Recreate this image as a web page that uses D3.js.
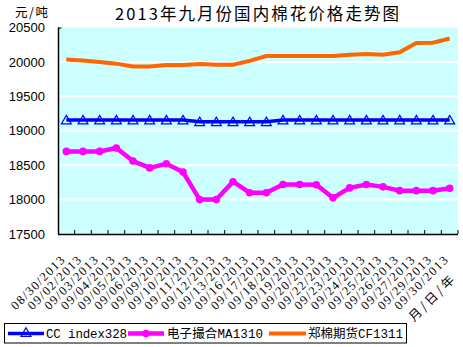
<!DOCTYPE html>
<html><head><meta charset="utf-8">
<script src="https://cdn.jsdelivr.net/npm/d3@7"></script>
<style>body{margin:0;background:#fff}svg{display:block}</style>
</head><body><svg id="c" width="463" height="347"></svg>
<script>
const dates = ["08/30/2013","09/02/2013","09/03/2013","09/04/2013","09/05/2013","09/06/2013","09/09/2013","09/10/2013","09/11/2013","09/12/2013","09/13/2013","09/16/2013","09/17/2013","09/18/2013","09/19/2013","09/20/2013","09/22/2013","09/23/2013","09/24/2013","09/25/2013","09/26/2013","09/27/2013","09/29/2013","09/30/2013"];
const ccIndex = [19155,19155,19155,19155,19155,19155,19155,19155,19130,19130,19130,19130,19130,19155,19155,19155,19155,19155,19155,19155,19155,19155,19155,19155];
const dianzi = [18700,18700,18700,18750,18560,18460,18520,18400,18000,18000,18260,18100,18100,18220,18220,18215,18025,18170,18220,18185,18130,18130,18130,18165];
const zhengmian = [20035,20020,20000,19975,19935,19935,19955,19955,19970,19960,19960,20015,20085,20085,20085,20085,20085,20105,20115,20105,20140,20275,20280,20340];
const yTicks = [17500,18000,18500,19000,19500,20000,20500];
const seriesNames = ["CC index328","电子撮合MA1310","郑棉期货CF1311"];
const colors = ["#0000FF","#FF00FF","#FF6600"];
const titleText = "2013年九月份国内棉花价格走势图";
const unitText = "元/吨";
const xAxisText = "月/日/年";

const svg = d3.select("#c");
const L = 58, R = 458, T = 27.5, B = 234;
const x = d3.scaleBand().domain(dates).range([L, R]).padding(0);
const cx = d => x(d) + x.bandwidth() / 2;
const y = d3.scaleLinear().domain([17500, 20500]).range([B, T]);

// plot background
svg.append("rect").attr("x", L).attr("y", T).attr("width", R - L).attr("height", B - T).attr("fill", "#CCFFFF");
// gridlines
svg.append("g").selectAll("line").data(yTicks.filter(v => v > 17500 && v < 20500)).join("line")
  .attr("x1", L).attr("x2", R).attr("y1", d => y(d)).attr("y2", d => y(d))
  .attr("stroke", "#fff").attr("stroke-width", 2);

// y axis labels
const yAxis = d3.axisLeft(y).tickValues(yTicks).tickSize(0).tickPadding(13).tickFormat(d3.format("d"));
const ya = svg.append("g").attr("transform", `translate(${L},0)`).call(yAxis);
ya.select(".domain").remove();
ya.selectAll("text").attr("font-family", "Liberation Sans, Arial, sans-serif").attr("font-size", 13).attr("fill", "#000");
// left axis line + top tick
svg.append("line").attr("x1", L + 0.5).attr("x2", L + 0.5).attr("y1", T).attr("y2", B).attr("stroke", "#000").attr("stroke-width", 1.5);
svg.append("line").attr("x1", L).attr("x2", L + 3.5).attr("y1", T + 0.5).attr("y2", T + 0.5).attr("stroke", "#000");
// bottom axis line + inward ticks at band boundaries
svg.append("line").attr("x1", L).attr("x2", R).attr("y1", B + 0.5).attr("y2", B + 0.5).attr("stroke", "#000").attr("stroke-width", 1.5);
svg.append("g").selectAll("line").data(dates).join("line")
  .attr("x1", d => x(d) + x.bandwidth()).attr("x2", d => x(d) + x.bandwidth())
  .attr("y1", B).attr("y2", B - 4).attr("stroke", "#000");

// x labels
svg.append("g").selectAll("text").data(dates).join("text")
  .attr("transform", d => `translate(${cx(d) - 1},${B + 27}) rotate(-45)`)
  .attr("text-anchor", "end")
  .attr("font-family", "Liberation Serif, serif").attr("font-size", 12.5)
  .attr("textLength", 70).attr("lengthAdjust", "spacing")
  .text(d => d);

// series
const line = d3.line().x((v, i) => cx(dates[i])).y(v => y(v));
// orange
svg.append("path").datum(zhengmian).attr("d", line).attr("fill", "none").attr("stroke", colors[2]).attr("stroke-width", 4);
// blue triangles then line
const tri = d3.symbol().type(d3.symbolTriangle).size(42);
svg.append("g").selectAll("path").data(ccIndex).join("path")
  .attr("d", tri).attr("transform", (v, i) => `translate(${cx(dates[i])},${y(v) + 1})`)
  .attr("fill", "none").attr("stroke", colors[0]).attr("stroke-width", 1.2);
svg.append("path").datum(ccIndex).attr("d", line).attr("fill", "none").attr("stroke", colors[0]).attr("stroke-width", 3.5);
// magenta
svg.append("path").datum(dianzi).attr("d", line).attr("fill", "none").attr("stroke", colors[1]).attr("stroke-width", 4.5);
svg.append("g").selectAll("circle").data(dianzi).join("circle")
  .attr("cx", (v, i) => cx(dates[i])).attr("cy", v => y(v)).attr("r", 3.8).attr("fill", colors[1]);

// title & unit
svg.append("text").attr("x", 115).attr("y", 20).attr("font-family", "Noto Sans CJK SC, sans-serif").attr("font-size", 16.5)
  .attr("textLength", 284).attr("lengthAdjust", "spacing").text(titleText);
svg.append("text").attr("x", 15).attr("y", 17).attr("font-family", "Noto Sans CJK SC, sans-serif").attr("font-size", 12.5)
  .attr("textLength", 33).attr("lengthAdjust", "spacing").text(unitText);
// x axis title
svg.append("text").attr("transform", `translate(455,281) rotate(-45)`).attr("text-anchor", "end")
  .attr("font-family", "Noto Sans CJK SC, sans-serif").attr("font-size", 12.5)
  .attr("textLength", 58).attr("lengthAdjust", "spacing").text(xAxisText);

// legend
const lg = svg.append("g");
lg.append("rect").attr("x", 4.5).attr("y", 323.5).attr("width", 402).attr("height", 19.5).attr("fill", "#fff").attr("stroke", "#000");
const items = [
  {x1: 8, x2: 44, tx: 46, tl: 81, sw: 3.5},
  {x1: 128, x2: 164, tx: 167, tl: 96, sw: 4.5},
  {x1: 269, x2: 306, tx: 308, tl: 95, sw: 4}
];
items.forEach((it, k) => {
  const ly = 333.5;
  lg.append("line").attr("x1", it.x1).attr("x2", it.x2).attr("y1", ly).attr("y2", ly).attr("stroke", colors[k]).attr("stroke-width", it.sw);
  const mx = (it.x1 + it.x2) / 2;
  if (k === 0) lg.append("path").attr("d", tri).attr("transform", `translate(${mx},${ly})`).attr("fill", "none").attr("stroke", colors[0]).attr("stroke-width", 1.2);
  if (k === 1) lg.append("circle").attr("cx", mx).attr("cy", ly).attr("r", 3.8).attr("fill", colors[1]);
  lg.append("text").attr("x", it.tx).attr("y", ly + 4.5).attr("font-family", "Liberation Mono, Noto Sans CJK SC, monospace").attr("font-size", 12.5)
    .attr("textLength", it.tl).attr("lengthAdjust", "spacing").text(seriesNames[k]);
});
</script></body></html>
